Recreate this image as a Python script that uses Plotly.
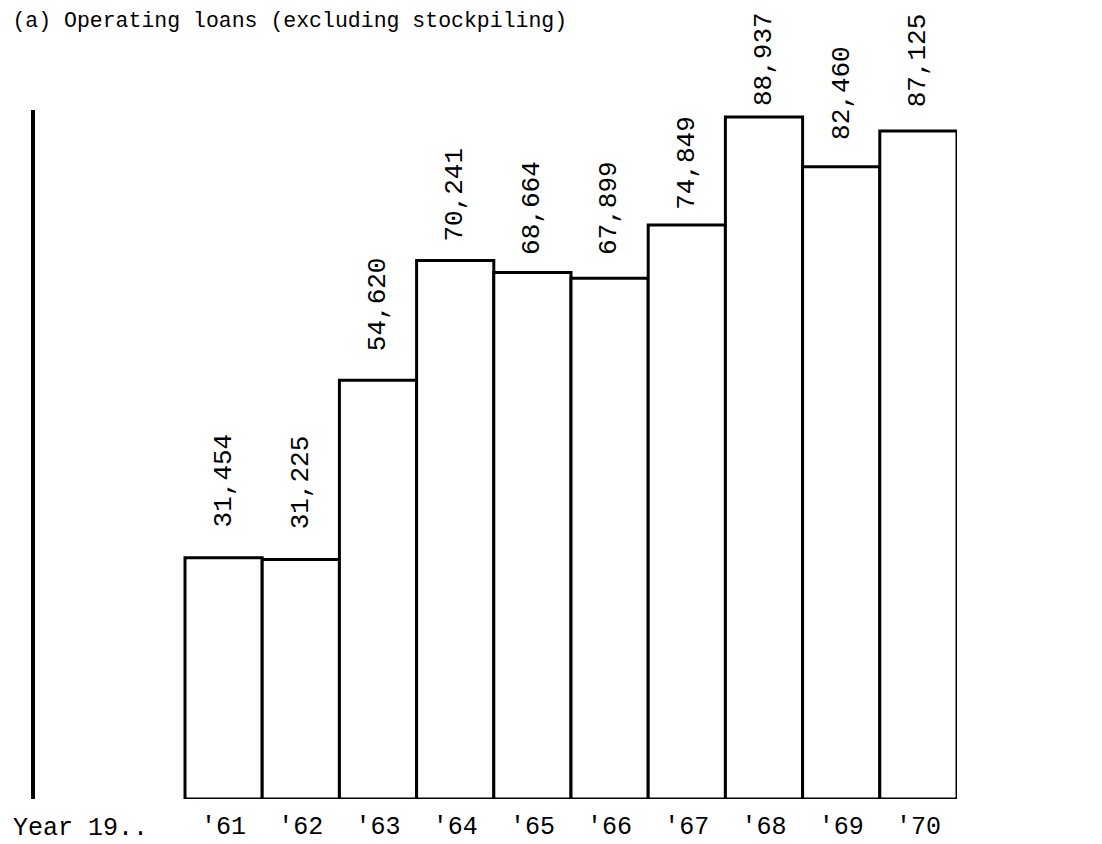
import plotly.graph_objects as go

# Operating loans (excluding stockpiling), by year
years = [1961, 1962, 1963, 1964, 1965, 1966, 1967, 1968, 1969, 1970]
year_labels = ["'61", "'62", "'63", "'64", "'65", "'66", "'67", "'68", "'69", "'70"]
loans = [31454, 31225, 54620, 70241, 68664, 67899, 74849, 88937, 82460, 87125]

# hand-placed gap (px) between bar top and its value label
label_gap = [28, 28, 27, 17, 16, 21, 13, 9, 25, 22]

FONT = "Liberation Mono"

fig = go.Figure(go.Bar(
    x=years, y=loans, width=1,
    marker=dict(color='white', line=dict(color='black', width=3)),
    hoverinfo='skip'
))

for yr, v, gap in zip(years, loans, label_gap):
    fig.add_annotation(
        x=yr, y=v, text=f'{v:,}', textangle=-90,
        showarrow=False, xanchor='center', yanchor='bottom', yshift=gap,
        font=dict(family=FONT, size=26, color='black')
    )

fig.add_annotation(
    xref='paper', yref='paper', x=-0.026, y=0, yshift=-29,
    text='Year 19..', showarrow=False, xanchor='left', yanchor='middle',
    font=dict(family=FONT, size=25, color='black')
)

# page body adds an 8px margin, so the figure is sized 8px smaller
fig.update_layout(
    title=dict(text='(a) Operating loans (excluding stockpiling)',
               x=0.004, xanchor='left', y=0.986, yanchor='middle',
               font=dict(family=FONT, size=21.5, color='black')),
    width=1094, height=836,
    margin=dict(l=27, r=145, t=102, b=45, autoexpand=False),
    plot_bgcolor='white', paper_bgcolor='white',
    showlegend=False
)
fig.update_xaxes(
    range=[1958.557, 1970.5], tickvals=years, ticktext=year_labels,
    ticks='outside', ticklen=4, tickcolor='white', automargin=False,
    tickfont=dict(family=FONT, size=25, color='black'),
    showgrid=False, zeroline=False, showline=False
)
fig.update_yaxes(
    range=[0, 89853], showticklabels=False, ticks='', automargin=False,
    showgrid=False, zeroline=False,
    showline=True, linecolor='black', linewidth=4
)

fig.write_html("out.html")
